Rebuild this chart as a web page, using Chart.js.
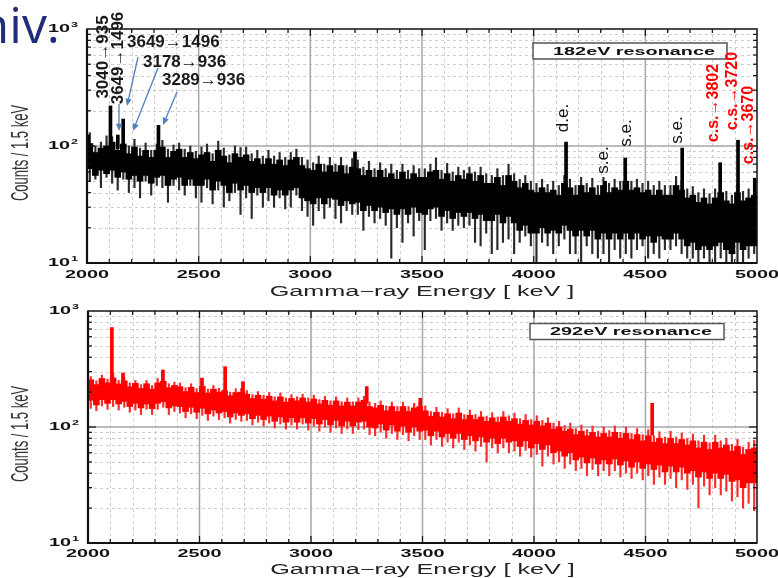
<!DOCTYPE html>
<html>
<head>
<meta charset="utf-8">
<script src="https://cdn.jsdelivr.net/npm/chart.js@4.4.1/dist/chart.umd.min.js"></script>
<style>
  html, body { margin: 0; padding: 0; background: #fff; }
  #wrap { position: relative; width: 778px; height: 578px; overflow: hidden; }
  canvas { position: absolute; left: 0; }
  #topChart { top: 0; }
  #bottomChart { top: 300px; }
</style>
</head>
<body>
<div id="wrap">
  <canvas id="topChart" width="778" height="300"></canvas>
  <canvas id="bottomChart" width="778" height="278"></canvas>
</div>
<script>
// spectra are binned in 25 keV steps from 2000 keV
const binStart = 2000;
const binWidth = 25;
const xTicks = [2000, 2500, 3000, 3500, 4000, 4500, 5000];
const xTickLabels = ['2000', '2500', '3000', '3500', '4000', '4500', '5000'];
const yTicks = [10, 100, 1000];
const yTickExp = ['1', '2', '3'];

// 182 eV resonance: dense part of the spectrum and the reach of its error bars
const topCoreHi = [
  105, 88, 96, 100,  108, 92, 104, 86,   98, 82, 92, 80,   92, 98, 80, 90,
  94, 80, 88, 78,    84, 88, 74, 92,     82, 72, 86, 80,   84, 74, 78, 70,
  78, 70, 76, 68,    76, 80, 68, 64,     62, 70, 60, 68,   60, 68, 58, 66,
  64, 56, 62, 54,    62, 54, 58, 52,     60, 52, 58, 54,   54, 60, 62, 52,
  58, 50, 56, 52,    58, 50, 56, 48,     48, 54, 46, 56,   50, 44, 48, 42,
  40, 44, 40, 42,    38, 48, 44, 38,     46, 40, 44, 38,   46, 40, 44, 42,
  50, 42, 44, 40,    42, 38, 42, 38,     38, 46, 42, 36,   38, 33, 36, 32,
  36, 40, 34, 32,    40, 34, 36, 38
];
const topCoreLo = [
  64, 56, 62, 58,    62, 54, 60, 52,     56, 50, 56, 48,   54, 56, 46, 52,
  54, 46, 52, 46,    46, 52, 42, 50,     46, 40, 48, 42,   46, 40, 44, 40,
  44, 38, 42, 38,    42, 44, 36, 34,     32, 36, 32, 36,   35, 31, 34, 32,
  33, 28, 31, 28,    30, 27, 29, 26,     29, 26, 30, 27,   26, 29, 30, 25,
  28, 24, 27, 25,    27, 24, 26, 23,     23, 26, 22, 25,   22, 19, 21, 18,
  18, 20, 18, 19,    18, 21, 19, 17,     19, 17, 19, 16,   18, 16, 18, 16,
  18, 16, 18, 16,    17, 15, 17, 16,     16, 18, 16, 14,   15, 13, 14, 13,
  14, 15, 13, 12,    15, 13, 14, 14
];
const topErrHi = [
  130, 100, 108, 122, 120, 110, 118, 100, 114, 96, 106, 92,  104, 112, 94, 102,
  106, 94, 100, 90,   98, 104, 86, 110,   96, 84, 100, 97,   98, 86, 92, 82,
  92, 82, 88, 80,     88, 94, 80, 76,     72, 82, 70, 80,    70, 80, 68, 78,
  76, 66, 74, 64,     72, 64, 70, 62,     70, 62, 68, 64,    64, 70, 79, 62,
  71, 60, 66, 62,     66, 60, 66, 58,     56, 64, 56, 70,    58, 52, 56, 50,
  48, 52, 47, 50,     46, 56, 52, 46,     54, 48, 53, 46,    54, 48, 52, 50,
  58, 50, 52, 48,     50, 46, 50, 46,     46, 55, 50, 43,    45, 40, 43, 39,
  43, 47, 41, 38,     47, 41, 43, 53
];
const topErrLo = [
  50, 52, 44, 54,    48, 42, 52, 40,     44, 36, 50, 38,   46, 44, 33, 46,
  42, 38, 46, 36,    33, 44, 32, 42,     30, 34, 40, 26,   36, 24, 38, 30,
  34, 30, 36, 29,    30, 38, 28, 25,     21, 28, 24, 30,   24, 22, 28, 26,
  26, 19, 25, 22,    24, 21, 11, 20,     15, 22, 17, 23,   13, 23, 24, 19,
  22, 19, 21, 20,    21, 15, 14, 18,     12, 13, 15, 16,   12, 15, 17, 14,
  10, 15, 14, 12,    14, 16, 12, 12,     10, 14, 12, 11,   12, 10, 13, 11,
  12, 11, 13, 14,    11, 12, 11, 13,     13, 14, 12, 11,   11, 10, 11, 10,
  10, 11, 10, 10,    10, 10, 11, 12
];
// narrow lines standing out of the 182 eV continuum
const topPeakE  = [2005, 2105, 2138, 2162, 2320, 3200, 4145, 4320, 4410, 4665, 4835, 4915, 4990];
const topPeakLo = [95, 95, 95, 100, 85, 60, 45, 42, 44, 40, 35, 36, 36];
const topPeakHi = [124, 220, 124, 170, 150, 89, 108, 50, 79, 96, 72, 112, 53];

// 292 eV resonance
const botCoreHi = [
  255, 232, 262, 240, 265, 235, 250, 222, 238, 215, 236, 212, 240, 248, 218, 228,
  222, 202, 220, 198, 224, 196, 212, 200, 206, 186, 198, 200, 192, 176, 188, 174,
  184, 168, 182, 164, 176, 168, 178, 164, 174, 158, 170, 154, 168, 152, 164, 152,
  164, 170, 150, 146, 154, 138, 150, 136, 150, 136, 146, 150, 138, 124, 134, 122,
  130, 118, 132, 116, 126, 116, 122, 112, 120, 110, 122, 112, 118, 106, 114, 104,
  112, 102, 108, 96,  100, 92, 96, 86,    92, 84, 90, 82,     88, 82, 90, 80,
  88, 78, 86, 76,     84, 74, 80, 72,     80, 72, 78, 70,     76, 66, 74, 64,
  74, 66, 70, 62,     68, 58, 64, 66
];
const botCoreLo = [
  170, 155, 172, 160, 172, 158, 166, 150, 160, 146, 158, 144, 160, 165, 146, 152,
  150, 136, 148, 134, 145, 130, 140, 132, 136, 122, 132, 126, 130, 118, 126, 116,
  124, 112, 122, 110, 120, 110, 120, 108, 118, 106, 116, 104, 114, 102, 112, 102,
  110, 112, 100, 98,  106, 94, 104, 92,   102, 90, 100, 92,   94, 84, 92, 82,
  88, 80, 88, 78,     84, 76, 82, 74,     80, 72, 80, 74,     76, 68, 76, 66,
  72, 64, 70, 60,     62, 56, 60, 52,     55, 49, 54, 48,     52, 48, 53, 47,
  51, 45, 50, 44,     48, 43, 47, 41,     46, 41, 45, 40,     42, 37, 41, 36,
  40, 36, 39, 34,     35, 30, 33, 33
];
const botErrHi = [
  272, 250, 280, 258, 290, 252, 268, 240, 252, 232, 252, 228, 262, 265, 236, 244,
  240, 218, 236, 214, 262, 212, 228, 216, 222, 200, 214, 215, 206, 190, 202, 188,
  198, 182, 196, 178, 190, 182, 192, 178, 188, 172, 184, 168, 182, 165, 178, 165,
  178, 184, 164, 160, 168, 152, 164, 150, 164, 150, 160, 164, 152, 136, 148, 134,
  144, 130, 146, 128, 140, 128, 136, 124, 133, 122, 136, 125, 132, 118, 128, 116,
  125, 114, 120, 108, 112, 103, 108, 97,  104, 95, 102, 92,   100, 93, 102, 90,
  100, 88, 97, 86,    95, 84, 91, 82,     92, 82, 89, 80,     87, 76, 85, 73,
  85, 76, 80, 71,     78, 67, 74, 77
];
const botErrLo = [
  145, 138, 152, 142, 150, 140, 148, 134, 140, 128, 142, 128, 142, 148, 128, 136,
  132, 120, 130, 118, 126, 114, 124, 116, 120, 108, 116, 112, 114, 104, 110, 102,
  108, 98, 106, 96,   104, 96, 106, 94,   102, 92, 100, 90,   98, 88, 96, 88,
  95, 96, 86, 84,     90, 80, 88, 78,     86, 76, 84, 78,     78, 70, 78, 68,
  74, 66, 74, 64,     70, 62, 68, 50,     66, 60, 66, 60,     62, 56, 63, 55,
  58, 46, 56, 48,     50, 44, 48, 42,     44, 38, 43, 38,     42, 38, 42, 37,
  40, 36, 40, 35,     38, 32, 37, 32,     36, 30, 35, 29,     32, 20, 31, 26,
  30, 26, 28, 23,     25, 20, 22, 19
];
const botPeakE  = [2107, 2157, 2336, 2511, 2615, 2695, 3250, 3490, 4530];
const botPeakLo = [250, 230, 225, 200, 190, 185, 160, 140, 85];
const botPeakHi = [720, 292, 310, 264, 331, 246, 223, 177, 160];

// plot text in the original figure is stretched sideways
const SX = 1.8;

function bins(lo, hi) {
  return lo.map((v, i) => ({ x: binStart + binWidth * (i + 0.5), y: [v, hi[i]] }));
}
function lines(e, lo, hi) {
  return e.map((v, i) => ({ x: v, y: [lo[i], hi[i]] }));
}

function seg(ctx, x1, y1, x2, y2) {
  ctx.beginPath();
  ctx.moveTo(x1, y1);
  ctx.lineTo(x2, y2);
  ctx.stroke();
}

function stretchText(ctx, text, x, y, font, align, color) {
  ctx.save();
  ctx.translate(x, y);
  ctx.scale(SX, 1);
  ctx.font = font;
  ctx.fillStyle = color || '#111';
  ctx.textAlign = align || 'center';
  ctx.textBaseline = 'middle';
  ctx.fillText(text, 0, 0);
  ctx.restore();
}

function powerLabel(ctx, exp, right, cy) {
  ctx.save();
  ctx.translate(right, cy);
  ctx.scale(SX, 1);
  ctx.fillStyle = '#111';
  ctx.textAlign = 'right';
  ctx.textBaseline = 'middle';
  ctx.font = 'bold 7px "Liberation Sans"';
  const w = ctx.measureText(exp).width;
  ctx.fillText(exp, 0, -4);
  ctx.font = 'bold 11px "Liberation Sans"';
  ctx.fillText('10', -w - 0.5, 0);
  ctx.restore();
}

function vText(ctx, text, x, y, font, color) {
  ctx.save();
  ctx.translate(x, y);
  ctx.rotate(-Math.PI / 2);
  ctx.font = font;
  ctx.fillStyle = color;
  ctx.textAlign = 'center';
  ctx.textBaseline = 'middle';
  ctx.fillText(text, 0, 0);
  ctx.restore();
}

function arrow(ctx, x1, y1, x2, y2) {
  const ang = Math.atan2(y2 - y1, x2 - x1);
  ctx.save();
  ctx.strokeStyle = '#4f81bd';
  ctx.fillStyle = '#4f81bd';
  ctx.lineWidth = 1.3;
  seg(ctx, x1, y1, x2 - 5 * Math.cos(ang), y2 - 5 * Math.sin(ang));
  ctx.beginPath();
  ctx.moveTo(x2, y2);
  ctx.lineTo(x2 - 8 * Math.cos(ang - 0.4), y2 - 8 * Math.sin(ang - 0.4));
  ctx.lineTo(x2 - 8 * Math.cos(ang + 0.4), y2 - 8 * Math.sin(ang + 0.4));
  ctx.closePath();
  ctx.fill();
  ctx.restore();
}

// dashed minor grid and solid major grid under the data
const gridPlugin = {
  id: 'gridPlugin',
  beforeDatasetsDraw(chart) {
    const { ctx, chartArea: a, scales: { x, y } } = chart;
    ctx.save();
    ctx.lineWidth = 1;
    ctx.strokeStyle = '#cdcdcd';
    ctx.setLineDash([3, 3]);
    for (let e = 2100; e < 5000; e += 100) {
      if (e % 500 === 0) continue;
      const px = Math.round(x.getPixelForValue(e)) + 0.5;
      seg(ctx, px, a.top, px, a.bottom);
    }
    for (const dec of [10, 100]) {
      for (let m = 2; m <= 9; m++) {
        const py = Math.round(y.getPixelForValue(dec * m)) + 0.5;
        seg(ctx, a.left, py, a.right, py);
      }
    }
    ctx.setLineDash([]);
    ctx.strokeStyle = '#a6a6a6';
    ctx.lineWidth = 1.5;
    for (let e = 2500; e < 5000; e += 500) {
      const px = x.getPixelForValue(e);
      seg(ctx, px, a.top, px, a.bottom);
    }
    const p100 = y.getPixelForValue(100);
    seg(ctx, a.left, p100, a.right, p100);
    ctx.restore();
  }
};

// frame, tick marks and all the text
const axisPlugin = {
  id: 'axisPlugin',
  afterDraw(chart, args, opts) {
    const { ctx, chartArea: a, scales: { x, y } } = chart;
    ctx.save();
    ctx.strokeStyle = '#111';
    ctx.lineWidth = 1.2;
    for (let e = 2100; e < 5000; e += 100) {
      const px = x.getPixelForValue(e);
      const len = e % 500 === 0 ? 7 : 4;
      seg(ctx, px, a.bottom, px, a.bottom - len);
      seg(ctx, px, a.top, px, a.top + len);
    }
    for (const dec of [10, 100]) {
      for (let m = 2; m <= 9; m++) {
        const py = y.getPixelForValue(dec * m);
        seg(ctx, a.left, py, a.left + 4, py);
        seg(ctx, a.right, py, a.right - 4, py);
      }
    }
    const p100 = y.getPixelForValue(100);
    seg(ctx, a.left, p100, a.left + 8, p100);
    seg(ctx, a.right, p100, a.right - 8, p100);

    ctx.lineWidth = 1.5;
    ctx.strokeRect(a.left, a.top, a.right - a.left, a.bottom - a.top);
    ctx.lineWidth = 2.2;
    seg(ctx, a.left, a.top, a.left, a.bottom + 1);
    seg(ctx, a.left - 1, a.bottom, a.right, a.bottom);

    xTicks.forEach((v, i) => {
      stretchText(ctx, xTickLabels[i], x.getPixelForValue(v), a.bottom + opts.tickGap, 'bold 11px "Liberation Sans"');
    });
    yTicks.forEach((v, i) => {
      powerLabel(ctx, yTickExp[i], a.left - 9, y.getPixelForValue(v));
    });

    stretchText(ctx, 'Gamma\u2212ray Energy [ keV ]', (a.left + a.right) / 2, a.bottom + opts.titleGap, '14px "Liberation Sans"', 'center', '#222');

    ctx.save();
    ctx.translate(22, (a.top + a.bottom) / 2 + 7);
    ctx.rotate(-Math.PI / 2);
    ctx.scale(1, SX);
    ctx.font = '13px "Liberation Sans"';
    ctx.fillStyle = '#333';
    ctx.textAlign = 'center';
    ctx.textBaseline = 'middle';
    ctx.fillText('Counts / 1.5 keV', 0, 0);
    ctx.restore();

    // resonance label box
    const bx = a.right - opts.boxRight;
    const by = a.top + opts.boxTop;
    ctx.fillStyle = '#fff';
    ctx.fillRect(bx, by, 194, 16);
    ctx.strokeStyle = '#555';
    ctx.lineWidth = 1.5;
    ctx.strokeRect(bx, by, 194, 16);
    stretchText(ctx, opts.title, bx + 101, by + 8.5, 'bold 11px "Liberation Sans"');
    ctx.restore();

    if (opts.notes) opts.notes(ctx);
  }
};

function topNotes(ctx) {
  ctx.save();
  ctx.font = '50px "Open Sans"';
  ctx.fillStyle = '#1f2d7a';
  ctx.textAlign = 'right';
  ctx.textBaseline = 'alphabetic';
  ctx.fillText('niv.', 60, 43);

  vText(ctx, '3040\u2192935', 103, 57, 'bold 17px "Liberation Sans"', '#1a1a1a');
  vText(ctx, '3649\u21921496', 118, 58, 'bold 17px "Liberation Sans"', '#1a1a1a');

  ctx.font = 'bold 17px "Liberation Sans"';
  ctx.fillStyle = '#1a1a1a';
  ctx.textAlign = 'left';
  ctx.textBaseline = 'middle';
  ctx.fillText('3649\u21921496', 127, 42);
  ctx.fillText('3178\u2192936', 143, 62);
  ctx.fillText('3289\u2192936', 162, 80);

  arrow(ctx, 119, 104, 119, 131);
  arrow(ctx, 138, 57, 127, 106);
  arrow(ctx, 158, 68, 133, 131);
  arrow(ctx, 177, 92, 163, 125);

  vText(ctx, 'd.e.', 563, 118, '17px "Liberation Sans"', '#111');
  vText(ctx, 's.e.', 603, 160, '17px "Liberation Sans"', '#111');
  vText(ctx, 's.e.', 626, 133, '17px "Liberation Sans"', '#111');
  vText(ctx, 's.e.', 677, 130, '17px "Liberation Sans"', '#111');
  vText(ctx, 'c.s.\u21923802', 714, 103, 'bold 16px "Liberation Sans"', '#f00');
  vText(ctx, 'c.s.\u21923720', 733, 91, 'bold 16px "Liberation Sans"', '#f00');
  vText(ctx, 'c.s.\u21923670', 749, 125, 'bold 16px "Liberation Sans"', '#f00');
  ctx.restore();
}

function spectrumChart(id, pad, core, err, peaks, colors, textOpts) {
  return new Chart(document.getElementById(id), {
    type: 'bar',
    data: {
      datasets: [
        { data: peaks, backgroundColor: colors.peak, barThickness: 3, grouped: false, order: 0 },
        { data: core, backgroundColor: colors.core, barThickness: 6, grouped: false, order: 1 },
        { data: err, backgroundColor: colors.err, barThickness: 1.5, grouped: false, order: 2 }
      ]
    },
    options: {
      responsive: false,
      animation: false,
      devicePixelRatio: 1,
      layout: { padding: pad },
      plugins: {
        legend: { display: false },
        tooltip: { enabled: false },
        axisPlugin: textOpts
      },
      scales: {
        x: { type: 'linear', min: 2000, max: 5000, offset: false, display: false },
        y: { type: 'logarithmic', min: 10, max: 1000, display: false }
      }
    },
    plugins: [gridPlugin, axisPlugin]
  });
}

spectrumChart('topChart',
  { left: 87, right: 21, top: 29, bottom: 37 },
  bins(topCoreLo, topCoreHi), bins(topErrLo, topErrHi), lines(topPeakE, topPeakLo, topPeakHi),
  { core: '#000', err: '#2a2a2a', peak: '#000' },
  { tickGap: 12, titleGap: 29, boxRight: 224, boxTop: 14, title: '182eV resonance', notes: topNotes });

spectrumChart('bottomChart',
  { left: 88, right: 21, top: 11, bottom: 35 },
  bins(botCoreLo, botCoreHi), bins(botErrLo, botErrHi), lines(botPeakE, botPeakLo, botPeakHi),
  { core: '#ff0000', err: '#ff2a2a', peak: '#ff0000' },
  { tickGap: 11, titleGap: 27, boxRight: 227, boxTop: 12.5, title: '292eV resonance' });
</script>
</body>
</html>
